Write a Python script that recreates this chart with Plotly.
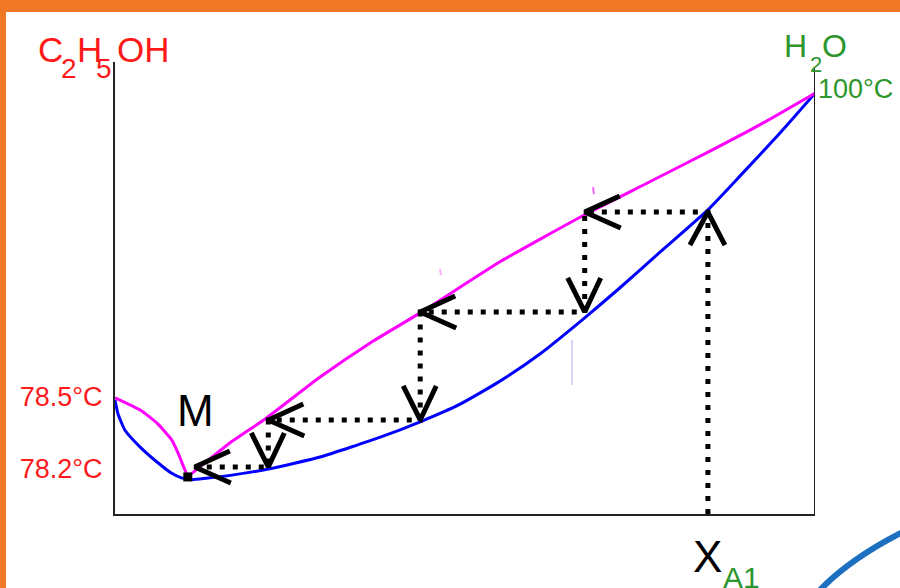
import plotly.graph_objects as go

# ---------------- data (x: % water, y: relative temperature height 0-100) -------------
liquid_x = [0, 0.4, 1.4, 3.6, 6.0, 8.1, 9.5, 11.0, 13.0, 16.7, 22.1, 29.3, 37.9, 43.6, 49.3,
            55.0, 60.7, 67.1, 72.1, 77.9, 84.7, 89.3, 95.0, 100]
liquid_y = [25.2, 22.3, 18.6, 14.8, 11.5, 9.0, 8.0, 7.6, 7.9, 8.6, 10.0, 12.6, 17.0, 20.4, 24.3,
            29.4, 35.4, 43.4, 50.0, 58.0, 67.3, 74.8, 84.3, 93.1]

vapor_x = [0, 3.6, 6.0, 8.1, 9.0, 10.0, 10.4, 12.1, 16.4, 21.6, 29.3, 36.4, 43.6, 55.0,
           67.1, 76.4, 85.0, 92.1, 100]
vapor_y = [25.7, 23.0, 20.1, 16.4, 13.5, 9.7, 8.4, 10.4, 15.7, 21.2, 30.3, 37.8, 44.5, 55.8,
           66.2, 73.5, 80.3, 86.1, 93.1]

step_x = [84.7, 84.7, 67.1, 67.1, 43.6, 43.6, 21.9, 21.9, 11.4]
step_y = [0, 66.8, 66.8, 44.7, 44.7, 20.8, 20.8, 10.4, 10.4]
arrow_dirs = ["up", "left", "down", "left", "down", "left", "down", "left"]

azeo_x = [10.4]
azeo_y = [8.2]

tick_vals = [26.0, 10.1]
tick_text = ["78.5°C", "78.2°C"]

# ---------------- layout geometry -------------
W, H = 900, 588
ML, MR, MT, MB = 115, 85, 62, 74
PW, PH = W - ML - MR, H - MT - MB
XR, YR = 100.0, 100.0
FONT = "Liberation Sans, Arial, sans-serif"


def px2paper(px, py):
    return (px - ML) / PW, (H - MB - py) / PH


fig = go.Figure()

fig.add_trace(go.Scatter(x=liquid_x, y=liquid_y, mode="lines",
                         line=dict(color="#0000FF", width=3, shape="spline", smoothing=0.5),
                         hoverinfo="skip", showlegend=False))
fig.add_trace(go.Scatter(x=vapor_x, y=vapor_y, mode="lines",
                         line=dict(color="#FF00FF", width=3, shape="spline", smoothing=0.5),
                         hoverinfo="skip", showlegend=False))

# dotted staircase
fig.add_trace(go.Scatter(x=step_x, y=step_y, mode="lines",
                         line=dict(color="black", width=5, dash="5px,8px"),
                         hoverinfo="skip", showlegend=False))

# open arrowheads at each step vertex
wing_px = {
    "up": [(-18, 33), (17, 33)],
    "left": [(35, -16), (36, 16)],
    "down": [(-17, -34), (16, -34)],
}
sx, sy = XR / PW, YR / PH
for i, d in enumerate(arrow_dirs):
    tx, ty = step_x[i + 1], step_y[i + 1]
    (ax, ay), (bx, by) = wing_px[d]
    fig.add_trace(go.Scatter(
        x=[tx + ax * sx, tx, tx + bx * sx],
        y=[ty - ay * sy, ty, ty - by * sy],
        mode="lines", line=dict(color="black", width=5),
        hoverinfo="skip", showlegend=False))

fig.add_trace(go.Scatter(x=azeo_x, y=azeo_y, mode="markers",
                         marker=dict(symbol="square", size=9, color="black"),
                         hoverinfo="skip", showlegend=False))

# ---------------- decorations -------------
shapes = []
x0, y0 = px2paper(-10, -10)
x1, y1 = px2paper(W + 10, 12)
shapes.append(dict(type="rect", xref="paper", yref="paper", x0=x0, y0=y1, x1=x1, y1=y0,
                   fillcolor="#F07826", line=dict(width=0), layer="below"))
x0, y0 = px2paper(-10, -10)
x1, y1 = px2paper(6, H + 10)
shapes.append(dict(type="rect", xref="paper", yref="paper", x0=x0, y0=y1, x1=x1, y1=y0,
                   fillcolor="#F07826", line=dict(width=0), layer="below"))
# right vertical axis line
shapes.append(dict(type="line", xref="x", yref="paper", x0=XR, x1=XR,
                   y0=0, y1=px2paper(0, 67)[1], line=dict(color="#222", width=2)))
# faint scan artefacts seen in the original drawing
for (ax0, ay0, ax1, ay1, col) in [(572, 340, 572, 385, "#D4D4F4"),
                                   (593, 187, 594, 194, "#FF66FF"),
                                   (440, 269, 441, 275, "#FFB0FF")]:
    q0 = px2paper(ax0, ay0)
    q1 = px2paper(ax1, ay1)
    shapes.append(dict(type="line", xref="paper", yref="paper", x0=q0[0], y0=q0[1],
                       x1=q1[0], y1=q1[1], line=dict(color=col, width=2)))
# blue decorative arc (bottom right)
p0 = px2paper(818, 592)
p1 = px2paper(852, 556)
p2 = px2paper(915, 526)
shapes.append(dict(type="path", xref="paper", yref="paper",
                   path=f"M {p0[0]},{p0[1]} Q {p1[0]},{p1[1]} {p2[0]},{p2[1]}",
                   line=dict(color="#1D6FC0", width=6)))

annotations = []


def ann(text, px, py, size, color, xanchor="left"):
    x, y = px2paper(px, py)
    annotations.append(dict(text=text, x=x, y=y, xref="paper", yref="paper",
                            xanchor=xanchor, yanchor="middle", showarrow=False,
                            font=dict(family=FONT, size=size, color=color)))


RED = "#FF1A1A"
GREEN = "#2D962D"
ann("C", 36, 49.5, 35, RED)
ann("2", 59, 68, 28, RED)
ann("H", 75, 49.5, 35, RED)
ann("5", 94, 68, 28, RED)
ann("OH", 115, 49.5, 35, RED)

ann("H", 782, 46.5, 32, GREEN)
ann("2", 808, 64.5, 22, GREEN)
ann("O", 820, 46.5, 32, GREEN)
ann("100°C", 816, 88.5, 27, GREEN)

ann("M", 195, 410, 44, "black", xanchor="center")
ann("X", 691, 556, 44, "black")
ann("A1", 721, 577, 30, GREEN)

fig.update_layout(
    width=W, height=H,
    margin=dict(l=ML, r=MR, t=MT, b=MB, pad=0),
    paper_bgcolor="white", plot_bgcolor="white",
    showlegend=False,
    xaxis=dict(range=[0, XR], showgrid=False, zeroline=False, showticklabels=False,
               ticks="", showline=True, linecolor="#222", linewidth=2, fixedrange=True),
    yaxis=dict(range=[0, YR], showgrid=False, zeroline=False, tickvals=tick_vals,
               ticktext=tick_text, ticks="", ticklabelstandoff=5,
               tickfont=dict(family=FONT, size=27, color=RED),
               showline=True, linecolor="#222", linewidth=2, fixedrange=True),
    shapes=shapes, annotations=annotations,
)

fig.write_html("out.html", config={"displayModeBar": False},
               post_script="document.body.style.margin='0';document.body.style.overflow='hidden';")
